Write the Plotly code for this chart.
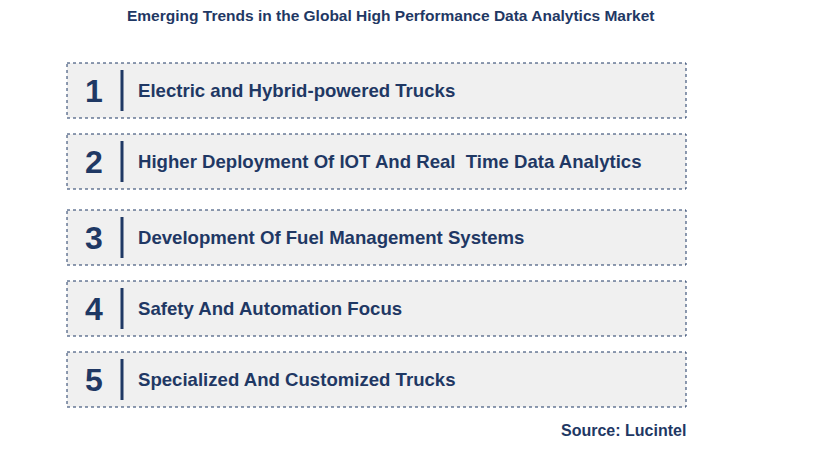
import plotly.graph_objects as go

title = "Emerging Trends in the Global High Performance Data Analytics Market"
numbers = ["1", "2", "3", "4", "5"]
trends = [
    "Electric and Hybrid-powered Trucks",
    "Higher Deployment Of IOT And Real  Time Data Analytics",
    "Development Of Fuel Management Systems",
    "Safety And Automation Focus",
    "Specialized And Customized Trucks",
]
source = "Source: Lucintel"

W, H = 819, 460
off = 7
navy = "#1f3864"
tops = [62, 133, 209, 280, 351]
box_h = 55
x0, x1 = 66, 685

fig = go.Figure()
shapes, ann = [], []
for i, (n, t) in enumerate(zip(numbers, trends)):
    y0 = tops[i]
    shapes.append(dict(type="rect", x0=x0, x1=x1, y0=y0, y1=y0 + box_h,
                       fillcolor="#f0f0f0", line=dict(color=navy, width=1, dash="dot"), layer="below"))
    shapes.append(dict(type="line", x0=121, x1=121, y0=y0 + 7, y1=y0 + box_h - 7,
                       line=dict(color=navy, width=3)))
    ann.append(dict(x=93, y=y0 + box_h / 2, text=f"<b>{n}</b>", showarrow=False,
                    font=dict(size=32, color=navy, family="Arial"), xanchor="center", yanchor="middle"))
    ann.append(dict(x=135, y=y0 + box_h / 2, text=f"<b>{t}</b>", showarrow=False,
                    font=dict(size=18.6, color=navy, family="Arial"), xanchor="left", yanchor="middle"))
ann.append(dict(x=389, y=14, text=f"<b>{title}</b>", showarrow=False,
                font=dict(size=15.5, color=navy, family="Arial"), xanchor="center", yanchor="middle"))
ann.append(dict(x=687, y=429, text=f"<b>{source}</b>", showarrow=False,
                font=dict(size=16, color=navy, family="Arial"), xanchor="right", yanchor="middle"))

fig.update_layout(width=W, height=H, margin=dict(l=0, r=0, t=0, b=0),
                  paper_bgcolor="white", plot_bgcolor="white",
                  xaxis=dict(range=[off, W + off], visible=False, fixedrange=True),
                  yaxis=dict(range=[H + off, off], visible=False, fixedrange=True),
                  shapes=shapes, annotations=ann, showlegend=False)
fig.write_html("out.html")
